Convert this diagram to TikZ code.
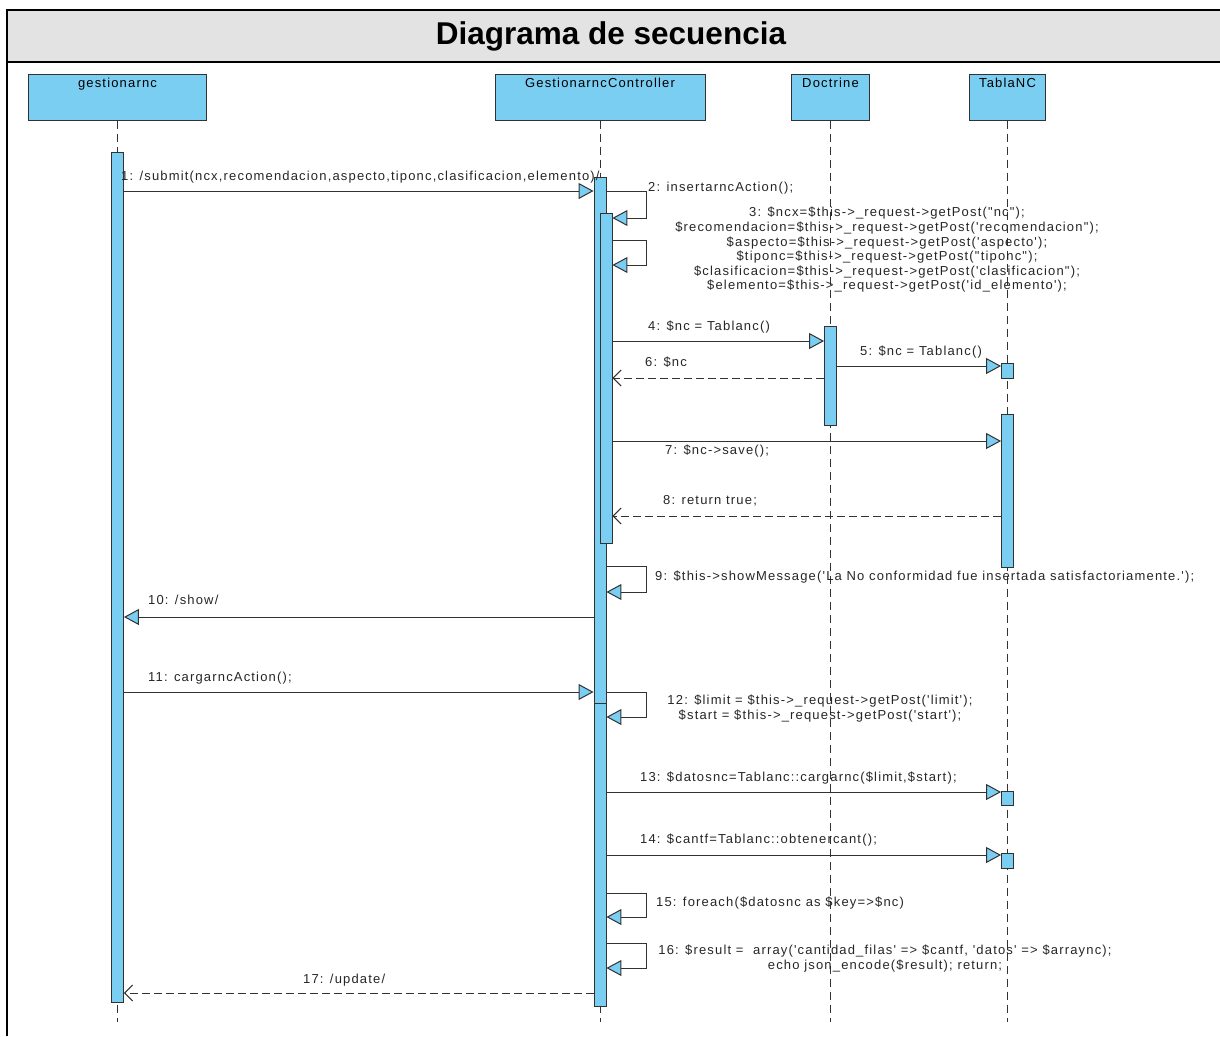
\documentclass[tikz,border=0pt]{standalone}
\usepackage{fontspec}
\setmainfont{Liberation Sans}
\newfontfamily\lblfont[LetterSpace=9]{Liberation Sans}
\usetikzlibrary{arrows.meta}
\definecolor{umlblue}{RGB}{122,206,242}
\definecolor{umlline}{RGB}{50,50,50}
\definecolor{bandgray}{RGB}{227,227,227}
\tikzset{
  head/.style={draw=umlline, fill=umlblue, line width=1pt, minimum height=46pt,
    inner ysep=4pt, text height=9pt, text depth=29pt,
    font=\lblfont\fontsize{13}{15}\selectfont},
  bar/.style={draw=umlline, fill=umlblue, line width=0.9pt, minimum width=12pt, inner sep=0pt},
  life/.style={draw=umlline, line width=0.9pt, dash pattern=on 8pt off 5pt},
  msg/.style={draw=umlline, line width=1pt, -{Triangle[length=15pt,width=16pt,fill=umlblue]}},
  ret/.style={draw=umlline, line width=1pt, dash pattern=on 8pt off 4pt, -{Straight Barb[length=8pt,width=16pt]}},
  lbl/.style={font=\lblfont\fontsize{13}{15}\selectfont, inner sep=0pt, anchor=base west, text=black!85},
  lblc/.style={font=\lblfont\fontsize{13}{14.6}\selectfont, inner sep=0pt, anchor=north, align=center, text=black!85}
}
\newcommand\actbar[4]{\node[bar, minimum height={#4-#3}] (#1) at (#2,{(#3+#4)/2}) {};}
\begin{document}
\begin{tikzpicture}[x=1pt,y=-1pt]
\useasboundingbox (0,0) rectangle (1220,1036);
% frame and title band
\fill[bandgray] (7,10) rectangle (1220,62);
\draw[line width=2.2pt] (7,1036) -- (7,10) -- (1220,10);
\draw[line width=2.2pt] (7,62) -- (1220,62);
\node[font=\bfseries\fontsize{31.5}{35}\selectfont] (title) at (611,36) {Diagrama de secuencia};

% lifeline heads
\node[head, minimum width=178pt] (hG) at (117.5,97) {gestionarnc};
\node[head, minimum width=210pt] (hC) at (600,97) {GestionarncController};
\node[head, minimum width=78pt] (hD) at (830.5,97) {Doctrine};
\node[head, minimum width=76pt] (hT) at (1007.5,97) {TablaNC};

% lifeline ends
\coordinate (yend) at (0,1022);
\foreach \h in {hG,hC,hD,hT} \draw[life] (\h.south) -- (\h.south |- yend);

% activation bars
\actbar{gA}{117.5}{152}{1002}
\actbar{cA}{600}{177}{703}
\actbar{cC}{600}{703}{1006}
\actbar{cB}{606}{213}{543}
\actbar{dA}{830.5}{326}{425}
\actbar{tA}{1007.5}{363}{378}
\actbar{tB}{1007.5}{414}{567}
\actbar{tC}{1007.5}{791}{805}
\actbar{tD}{1007.5}{853}{868}

% message levels
\coordinate (lx) at (646,0);
\foreach \n/\y in {m1/191,m2/218,m3a/240,m3b/265,m4/341,m5/366,m6/378,m7/441,m8/516,
  m9a/566,m9b/592,m10/617,m11/692,m12/717,m13/792,m14/855,m15a/893,m15b/917,
  m16a/943,m16b/968,m17/993}
  \coordinate (\n) at (0,\y);

% messages
\draw[msg] (gA.east |- m1) -- (cA.west |- m1);
\draw[msg] (cA.east |- m1) -- (lx |- m1) -- (lx |- m2) -- (cB.east |- m2);
\draw[msg] (cB.east |- m3a) -- (lx |- m3a) -- (lx |- m3b) -- (cB.east |- m3b);
\draw[msg] (cB.east |- m4) -- (dA.west |- m4);
\draw[msg] (dA.east |- m5) -- (tA.west |- m5);
\draw[ret] (dA.west |- m6) -- (cB.east |- m6);
\draw[msg] (cB.east |- m7) -- (tB.west |- m7);
\draw[ret] (tB.west |- m8) -- (cB.east |- m8);
\draw[msg] (cA.east |- m9a) -- (lx |- m9a) -- (lx |- m9b) -- (cA.east |- m9b);
\draw[msg] (cA.west |- m10) -- (gA.east |- m10);
\draw[msg] (gA.east |- m11) -- (cA.west |- m11);
\draw[msg] (cA.east |- m11) -- (lx |- m11) -- (lx |- m12) -- (cC.east |- m12);
\draw[msg] (cC.east |- m13) -- (tC.west |- m13);
\draw[msg] (cC.east |- m14) -- (tD.west |- m14);
\draw[msg] (cC.east |- m15a) -- (lx |- m15a) -- (lx |- m15b) -- (cC.east |- m15b);
\draw[msg] (cC.east |- m16a) -- (lx |- m16a) -- (lx |- m16b) -- (cC.east |- m16b);
\draw[ret] (cC.west |- m17) -- (gA.east |- m17);

% message labels
\node[lbl] (l1) at (121,180) {1: /submit(ncx,recomendacion,aspecto,tiponc,clasificacion,elemento)/};
\node[lbl] (l2) at (648,191) {2: insertarncAction();};
\node[lblc] (l3) at (887,207) {3: \$ncx=\$this->\_request->getPost("nc");\\
\$recomendacion=\$this->\_request->getPost('recomendacion");\\
\$aspecto=\$this->\_request->getPost('aspecto');\\
\$tiponc=\$this->\_request->getPost("tiponc");\\
\$clasificacion=\$this->\_request->getPost('clasificacion");\\
\$elemento=\$this->\_request->getPost('id\_elemento');};
\node[lbl] (l4) at (648,330) {4: \$nc = Tablanc()};
\node[lbl] (l5) at (860,355) {5: \$nc = Tablanc()};
\node[lbl] (l6) at (645,366) {6: \$nc};
\node[lbl] (l7) at (665,454) {7: \$nc->save();};
\node[lbl] (l8) at (663,504) {8: return true;};
\node[lbl] (l9) at (655,580) {9: \$this->showMessage('La No conformidad fue insertada satisfactoriamente.');};
\node[lbl] (l10) at (148,604) {10: /show/};
\node[lbl] (l11) at (148,681) {11: cargarncAction();};
\node[lblc] (l12) at (820,695) {12: \$limit = \$this->\_request->getPost('limit');\\
\$start = \$this->\_request->getPost('start');};
\node[lbl] (l13) at (640,781) {13: \$datosnc=Tablanc::cargarnc(\$limit,\$start);};
\node[lbl] (l14) at (640,843) {14: \$cantf=Tablanc::obtenercant();};
\node[lbl] (l15) at (656,906) {15: foreach(\$datosnc as \$key=>\$nc)};
\node[lblc] (l16) at (885,945) {16: \$result = \ array('cantidad\_filas' => \$cantf, 'datos' => \$arraync);\\
echo json\_encode(\$result); return;};
\node[lbl] (l17) at (303,983) {17: /update/};
\end{tikzpicture}
\end{document}
